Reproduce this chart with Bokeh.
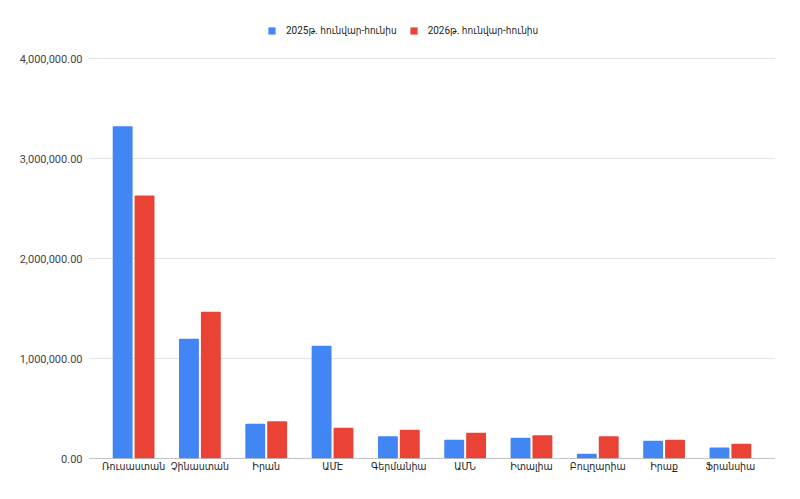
from bokeh.plotting import figure
from bokeh.models import (ColumnDataSource, FactorRange, FixedTicker, NumeralTickFormatter,
                          Legend, LegendItem, Range1d, Span)
from bokeh.transform import dodge
from bokeh.embed import file_html
from bokeh.resources import INLINE

countries = ["Ռուսաստան", "Չինաստան", "Իրան", "ԱՄԷ", "Գերմանիա",
             "ԱՄՆ", "Իտալիա", "Բուլղարիա", "Իրաք", "Ֆրանսիա"]
v2025 = [3323000, 1197000, 347000, 1127000, 223000, 187000, 207000, 47000, 177000, 110000]
v2026 = [2630000, 1467000, 373000, 307000, 287000, 257000, 233000, 223000, 187000, 147000]
series_names = ["2025թ. հունվար-հունիս", "2026թ. հունվար-հունիս"]
y_ticks = [0, 1000000, 2000000, 3000000, 4000000]

FONT = "Roboto, DejaVu Sans Condensed"

# frame spans from legend row down to the baseline; 400 px correspond to 4,000,000
Y_TOP = 4400000

src = ColumnDataSource(dict(c=countries, a=v2025, b=v2026))

p = figure(width=784, height=491, output_backend="svg", toolbar_location=None,
           x_range=FactorRange(factors=countries, range_padding=0.18, range_padding_units="absolute"),
           y_range=Range1d(0, Y_TOP),
           min_border_left=88, min_border_right=9, min_border_top=18, min_border_bottom=33)
p.outline_line_color = None
p.background_fill_color = "white"

r1 = p.vbar(x=dodge("c", -0.165, range=p.x_range), top="a", width=0.30, source=src,
            fill_color="#4285F4", line_color=None, border_radius=1)
r2 = p.vbar(x=dodge("c", 0.165, range=p.x_range), top="b", width=0.30, source=src,
            fill_color="#EA4335", line_color=None, border_radius=1)

p.xgrid.grid_line_color = None
p.ygrid.grid_line_color = "#e3e3e3"
p.ygrid.grid_line_width = 1

p.yaxis.ticker = FixedTicker(ticks=y_ticks)
p.yaxis.formatter = NumeralTickFormatter(format="0,0.00")
p.yaxis.axis_line_color = None
p.yaxis.major_tick_line_color = None
p.yaxis.minor_tick_line_color = None
p.yaxis.major_label_standoff = 0
p.yaxis.major_label_text_font = "Roboto"
p.yaxis.major_label_text_font_size = "11px"
p.yaxis.major_label_text_color = "#444444"

p.xaxis.axis_line_color = None
p.xaxis.major_tick_line_color = None
p.xaxis.minor_tick_line_color = None
p.xaxis.major_label_standoff = -5
p.xaxis.major_label_text_font = FONT
p.xaxis.major_label_text_font_size = "10.5px"
p.xaxis.major_label_text_color = "#222222"

p.add_layout(Span(location=0, dimension="width", line_color="#8a8a8a", line_width=1))

legend = Legend(items=[LegendItem(label=series_names[0], renderers=[r1]),
                       LegendItem(label=series_names[1], renderers=[r2])],
                orientation="horizontal", location=(179, 421),
                glyph_width=9, glyph_height=9, label_standoff=10, spacing=12,
                padding=0, margin=0, border_line_color=None, background_fill_alpha=0,
                label_text_font=FONT, label_text_font_size="10px",
                label_text_color="#222222", label_height=13)
p.add_layout(legend, "center")

open("out.html", "w").write(file_html(p, INLINE))
